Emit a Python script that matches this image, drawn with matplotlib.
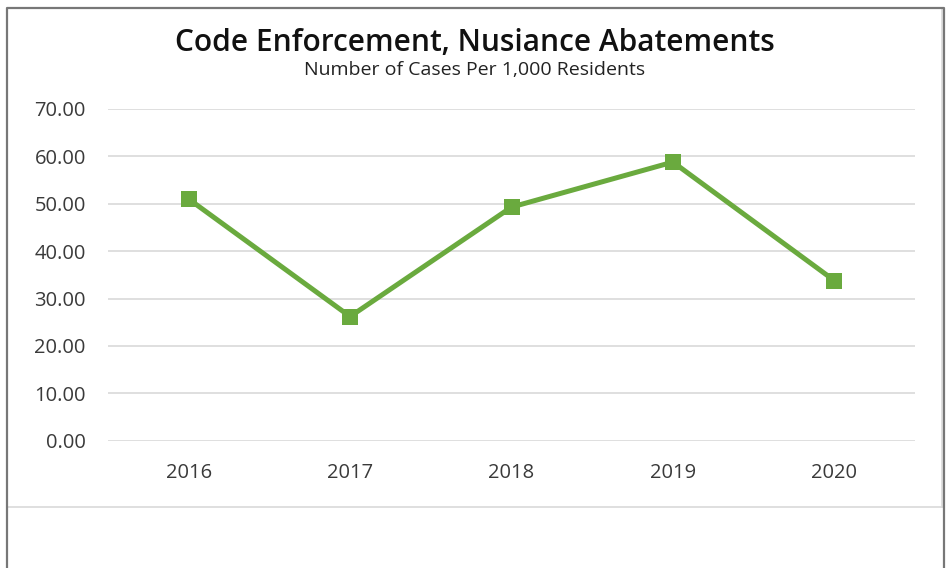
import matplotlib.pyplot as plt
from matplotlib.lines import Line2D

years = ['2016', '2017', '2018', '2019', '2020']
cases_per_1000 = [51.0, 26.2, 49.3, 58.8, 33.8]
y_ticks = [0, 10, 20, 30, 40, 50, 60, 70]

W, H = 950, 568
fig = plt.figure(figsize=(W / 100, H / 100), dpi=100)
fig.patch.set_facecolor('white')

ax = fig.add_axes([108 / W, 1 - 440.7 / H, (915 - 108) / W, (440.7 - 109) / H])
x = range(len(years))
ax.plot(x, cases_per_1000, color='#6aaa3e', linewidth=3.6,
        marker='s', markersize=11, markeredgewidth=0, zorder=3)

ax.set_xlim(-0.5, len(years) - 0.5)
ax.set_ylim(0, 70)
ax.set_xticks(list(x))
ax.set_xticklabels(years)
ax.set_yticks(y_ticks)
ax.set_yticklabels([f'{v:.2f}' for v in y_ticks])
ax.grid(axis='y', color='#d9d9d9', linewidth=1.2)
ax.set_axisbelow(True)
for s in ax.spines.values():
    s.set_visible(False)
ax.tick_params(axis='both', length=0, labelsize=14.5, labelcolor='#3a3a3a')
ax.tick_params(axis='y', pad=16)
ax.tick_params(axis='x', pad=16)
for lab in ax.get_xticklabels() + ax.get_yticklabels():
    lab.set_fontfamily('Open Sans')

fig.text(0.5, 1 - 43 / H, 'Code Enforcement, Nusiance Abatements',
         ha='center', va='center', fontsize=21.5, fontweight='semibold',
         family='Open Sans', color='#111111')
fig.text(0.5, 1 - 70 / H, 'Number of Cases Per 1,000 Residents',
         ha='center', va='center', fontsize=14, family='Open Sans',
         color='#222222')

# frame around the panel
def fline(xs, ys, color, lw):
    fig.add_artist(Line2D([v / W for v in xs], [1 - v / H for v in ys],
                          color=color, linewidth=lw, transform=fig.transFigure))

fline([942, 942], [8, 507], '#d9d9d9', 1.2)
fline([7, 942], [507, 507], '#d9d9d9', 1.2)
fline([7, 7, 944, 944], [H + 5, 8, 8, H + 5], '#777777', 1.6)

fig.savefig('out.png', dpi=100, facecolor='white')
